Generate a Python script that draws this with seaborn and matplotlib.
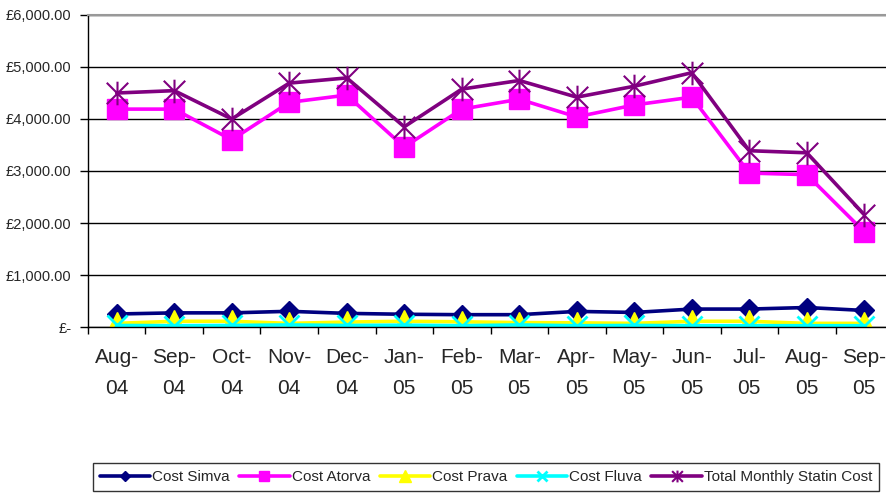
import numpy as np
import pandas as pd
import matplotlib
matplotlib.use("Agg")
import matplotlib.pyplot as plt
from matplotlib.path import Path
from matplotlib.ticker import FuncFormatter, MultipleLocator
import seaborn as sns

months = ["Aug-\n04", "Sep-\n04", "Oct-\n04", "Nov-\n04", "Dec-\n04", "Jan-\n05", "Feb-\n05",
          "Mar-\n05", "Apr-\n05", "May-\n05", "Jun-\n05", "Jul-\n05", "Aug-\n05", "Sep-\n05"]

cost_simva = [250, 272, 272, 302, 262, 245, 237, 237, 300, 280, 345, 345, 375, 318]
cost_atorva = [4190, 4190, 3600, 4320, 4460, 3460, 4190, 4380, 4040, 4270, 4420, 2960, 2930, 1830]
cost_prava = [70, 110, 110, 70, 95, 110, 100, 85, 80, 70, 110, 110, 70, 70]
cost_fluva = [30, 25, 30, 40, 30, 35, 25, 40, 25, 30, 25, 25, 25, 25]
total_cost = [4500, 4545, 4000, 4690, 4790, 3850, 4575, 4740, 4420, 4630, 4890, 3390, 3350, 2160]

series_names = ["Cost Simva", "Cost Atorva", "Cost Prava", "Cost Fluva", "Total Monthly Statin Cost"]
series_values = [cost_simva, cost_atorva, cost_prava, cost_fluva, total_cost]

# Excel-style star: an X with a vertical bar through it
star = Path([(-1, -1), (1, 1), (-1, 1), (1, -1), (0, -1.1), (0, 1.1)],
            [Path.MOVETO, Path.LINETO, Path.MOVETO, Path.LINETO, Path.MOVETO, Path.LINETO])

styles = {
    "Cost Simva": dict(color="#000080", marker="D", ms=10, mew=1),
    "Cost Atorva": dict(color="#FF00FF", marker="s", ms=14.5, mew=1),
    "Cost Prava": dict(color="#FFFF00", marker="^", ms=16, mew=1),
    "Cost Fluva": dict(color="#00FFFF", marker="x", ms=15, mew=2),
    "Total Monthly Statin Cost": dict(color="#800080", marker=star, ms=17, mew=1.5),
}

df = pd.DataFrame({
    "month": np.tile(months, len(series_names)),
    "series": np.repeat(series_names, len(months)),
    "cost": np.concatenate(series_values),
})

sns.set_style("white")
plt.rcParams["font.family"] = ["Liberation Sans", "DejaVu Sans"]

fig = plt.figure(figsize=(8.87, 4.93), dpi=100)
ax = fig.add_axes([0.0992, 0.3367, 0.9076, 0.6329])

for name in series_names:
    st = styles[name]
    sub = df[df["series"] == name]
    sns.lineplot(data=sub, x="month", y="cost", ax=ax, sort=False,
                 color=st["color"], lw=2.6, marker=st["marker"],
                 markersize=st["ms"], markeredgewidth=st["mew"],
                 markeredgecolor=st["color"], markerfacecolor=st["color"],
                 label=name, legend=False)

ax.set_xlim(-0.5, len(months) - 0.5)
ax.set_ylim(0, 6000)
ax.yaxis.set_major_locator(MultipleLocator(1000))
ax.yaxis.set_major_formatter(FuncFormatter(lambda v, p: "£-" if v == 0 else f"£{v:,.2f}"))
ax.set_xticks(range(len(months)))
ax.set_xticklabels(months, fontsize=15, linespacing=1.8)
ax.set_xticks(np.arange(-0.5, len(months)), minor=True)
ax.tick_params(axis="x", which="major", length=0, pad=15)
ax.tick_params(axis="x", which="minor", length=5, width=1, color="black", direction="out", bottom=True)
ax.tick_params(axis="y", length=6, width=1, color="black", direction="out", left=True,
               labelsize=10.5, pad=6)
ax.set_xlabel("")
ax.set_ylabel("")

ax.grid(axis="y", color="black", lw=1)
ax.grid(axis="x", visible=False)
ax.set_axisbelow(True)
for s in ["left", "bottom"]:
    ax.spines[s].set_color("black")
    ax.spines[s].set_linewidth(1)
ax.spines["top"].set_color("#999999")
ax.spines["top"].set_linewidth(1.5)
ax.spines["right"].set_visible(False)

handles, labels = ax.get_legend_handles_labels()
leg = fig.legend(handles, labels, loc="center", bbox_to_anchor=(0.548, 0.0325), ncol=5,
                 frameon=True, fancybox=False, edgecolor="black", fontsize=11,
                 handlelength=3.3, handletextpad=0.15, columnspacing=0.6,
                 borderpad=0.45, markerscale=0.5)
leg.get_frame().set_linewidth(1)

fig.savefig("out.png", dpi=100)
